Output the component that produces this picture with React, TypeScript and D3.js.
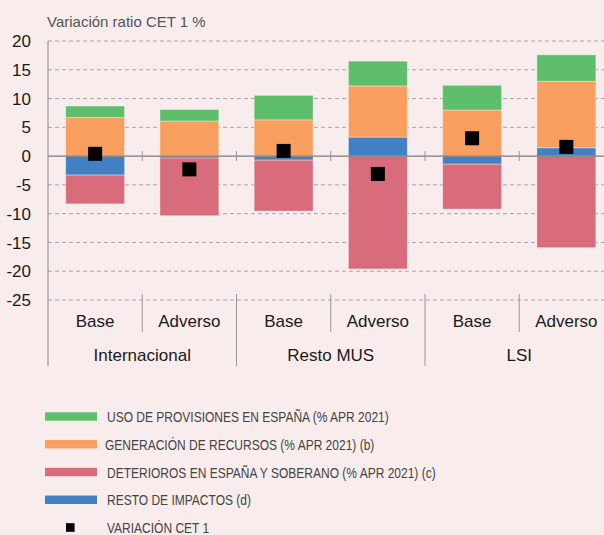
import { useEffect, useRef } from "react";
import * as d3 from "d3";

// ---- data ----
const groups = ["Internacional", "Resto MUS", "LSI"];
const scenarios = ["Base", "Adverso"];
const usoProvisiones = [2.0, 2.0, 4.25, 4.3, 4.3, 4.6];
const generacionRecursos = [6.7, 6.1, 6.3, 8.9, 8.0, 11.55];
const deterioros = [-5.0, -10.0, -8.85, -19.6, -7.8, -15.9];
const restoImpactos = [-3.3, -0.35, -0.7, 3.3, -1.4, 1.45];
const variacionCET1 = [0.4, -2.3, 0.9, -3.1, 3.1, 1.6];
const yTicks = [20, 15, 10, 5, 0, -5, -10, -15, -20, -25];

const legendItems = [
    { key: "uso", label: "USO DE PROVISIONES EN ESPAÑA (% APR 2021)" },
    { key: "gen", label: "GENERACIÓN DE RECURSOS (% APR 2021) (b)" },
    { key: "det", label: "DETERIOROS EN ESPAÑA Y SOBERANO (% APR 2021) (c)" },
    { key: "resto", label: "RESTO DE IMPACTOS (d)" },
];

const colors = {
    uso: "#5fbe6b",
    gen: "#f89f60",
    det: "#d86c7b",
    resto: "#4180c3",
};

const width = 604;
const height = 535;
const bg = "#f8ecec";

export default function App() {
    const svgRef = useRef<SVGSVGElement>(null);

    useEffect(() => {
        const svg = d3.select(svgRef.current);
        svg.selectAll("*").remove();

        svg.append("rect").attr("width", width).attr("height", height).attr("fill", bg);

        // bar ids = group x scenario
        const rows = groups.flatMap((g, gi) =>
            scenarios.map((s, si) => {
                const i = gi * 2 + si;
                return {
                    id: `${g}-${s}`,
                    group: g,
                    scenario: s,
                    resto: restoImpactos[i],
                    gen: generacionRecursos[i],
                    uso: usoProvisiones[i],
                    det: deterioros[i],
                    cet: variacionCET1[i],
                };
            })
        );

        const left = 48;
        const right = 613.5;

        const x = d3
            .scaleBand()
            .domain(rows.map((d) => d.id))
            .range([left, right])
            .paddingInner(0.375)
            .paddingOuter(0.1875);
        const xg = d3.scaleBand().domain(groups).range([left, right]).padding(0);
        const step = x.step();

        const y = d3.scaleLinear().domain([-25, 20]).range([300, 41]);

        // ####### grid #######
        svg.append("g")
            .selectAll("line")
            .data(yTicks.filter((t) => t !== 0))
            .join("line")
            .attr("x1", left)
            .attr("x2", width)
            .attr("y1", (d) => y(d))
            .attr("y2", (d) => y(d))
            .attr("stroke", "#a9a6a6")
            .attr("stroke-width", 1)
            .attr("stroke-dasharray", "4,3");

        // y tick labels
        svg.append("g")
            .selectAll("text")
            .data(yTicks)
            .join("text")
            .attr("x", 31)
            .attr("y", (d) => y(d))
            .attr("dy", "0.36em")
            .attr("text-anchor", "end")
            .attr("font-family", "Liberation Sans, Arial, sans-serif")
            .attr("font-size", 17)
            .attr("fill", "#1a1a1a")
            .text((d) => d);

        // ####### stacked bars #######
        const keys = ["resto", "gen", "uso", "det"] as const;
        const series = d3
            .stack<any>()
            .keys(keys as any)
            .offset(d3.stackOffsetDiverging)(rows);

        svg.append("g")
            .selectAll("g")
            .data(series)
            .join("g")
            .attr("fill", (s) => (colors as any)[s.key])
            .selectAll("rect")
            .data((s) => s)
            .join("rect")
            .attr("x", (d: any) => x(d.data.id)!)
            .attr("width", x.bandwidth())
            .attr("y", (d) => y(Math.max(d[0], d[1])))
            .attr("height", (d) => Math.abs(y(d[0]) - y(d[1])))
            .attr("stroke", "rgba(255,255,255,0.35)")
            .attr("stroke-width", 1);

        // zero line
        svg.append("line")
            .attr("x1", left)
            .attr("x2", width)
            .attr("y1", y(0))
            .attr("y2", y(0))
            .attr("stroke", "#7d7b7b")
            .attr("stroke-width", 1.4);

        // ticks on zero line at band boundaries
        const boundaries = rows.slice(1).map((d) => x(d.id)! - (step * x.paddingInner()) / 2);
        svg.append("g")
            .selectAll("line")
            .data(boundaries)
            .join("line")
            .attr("x1", (d) => d)
            .attr("x2", (d) => d)
            .attr("y1", y(0) - 5)
            .attr("y2", y(0) + 5)
            .attr("stroke", "#9a9797")
            .attr("stroke-width", 1);

        // y axis line
        svg.append("line")
            .attr("x1", left)
            .attr("x2", left)
            .attr("y1", y(20))
            .attr("y2", 366)
            .attr("stroke", "#8a8888")
            .attr("stroke-width", 1);

        // CET1 markers
        svg.append("g")
            .selectAll("rect")
            .data(rows)
            .join("rect")
            .attr("x", (d) => x(d.id)! + x.bandwidth() / 2 - 7)
            .attr("y", (d) => y(d.cet) - 7)
            .attr("width", 14)
            .attr("height", 14)
            .attr("fill", "#000");

        // ####### category axis #######
        const sep = svg.append("g").attr("stroke", "#9a9797").attr("stroke-width", 1);
        rows.forEach((d, i) => {
            if (i === 0) return;
            const bx = x(d.id)! - (step * x.paddingInner()) / 2;
            const isGroup = i % 2 === 0;
            sep.append("line")
                .attr("x1", bx)
                .attr("x2", bx)
                .attr("y1", 294)
                .attr("y2", isGroup ? 366 : 332);
        });

        svg.append("g")
            .selectAll("text")
            .data(rows)
            .join("text")
            .attr("x", (d) => x(d.id)! + x.bandwidth() / 2)
            .attr("y", 327)
            .attr("text-anchor", "middle")
            .attr("font-family", "Liberation Sans, Arial, sans-serif")
            .attr("font-size", 17)
            .attr("fill", "#1a1a1a")
            .text((d) => d.scenario);

        svg.append("g")
            .selectAll("text")
            .data(groups)
            .join("text")
            .attr("x", (d) => xg(d)! + xg.bandwidth() / 2)
            .attr("y", 361)
            .attr("text-anchor", "middle")
            .attr("font-family", "Liberation Sans, Arial, sans-serif")
            .attr("font-size", 17)
            .attr("fill", "#1a1a1a")
            .text((d) => d);

        // title
        svg.append("text")
            .attr("x", 47)
            .attr("y", 27)
            .attr("font-family", "Liberation Sans, Arial, sans-serif")
            .attr("font-size", 15)
            .attr("fill", "#555")
            .text("Variación ratio CET 1 %");

        // ####### legend #######
        // condensed caps: no narrow font installed, so squeeze horizontally
        const lg = svg.append("g");
        const legendY = d3
            .scalePoint()
            .domain([...legendItems.map((d) => d.key), "cet"])
            .range([416.5, 527.5]);

        const legendText = (tx: number, ty: number, label: string) =>
            lg.append("text")
                .attr("transform", `translate(${tx},${ty}) scale(0.8,1)`)
                .attr("font-family", "Liberation Sans, Arial, sans-serif")
                .attr("font-size", 15)
                .attr("fill", "#444")
                .text(label);

        legendItems.forEach((it, i) => {
            const cy = legendY(it.key)!;
            lg.append("rect")
                .attr("x", 45)
                .attr("y", cy - 4.2)
                .attr("width", 52)
                .attr("height", 8.4)
                .attr("fill", (colors as any)[it.key]);
            legendText(i === 1 ? 105 : 107, cy + 5.5, it.label);
        });
        const cy = legendY("cet")!;
        lg.append("rect")
            .attr("x", 66)
            .attr("y", cy - 4.3)
            .attr("width", 8.6)
            .attr("height", 8.6)
            .attr("fill", "#000");
        legendText(107, cy + 5, "VARIACIÓN CET 1");
    }, []);

    return (
        <svg
            ref={svgRef}
            width={width}
            height={height}
            style={{ position: "absolute", left: 0, top: 0, display: "block" }}
        ></svg>
    );
}
